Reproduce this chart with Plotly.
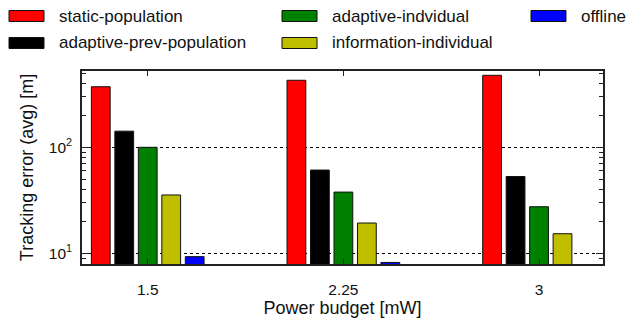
import plotly.graph_objects as go

# Power budgets (mW) and mean tracking error (m) per strategy
budgets = ["1.5", "2.25", "3"]
static_population = [373, 429, 478]
adaptive_prev_population = [142, 61, 53]
adaptive_individual = [100, 37.8, 27.5]
information_individual = [35.5, 19.3, 15.3]
offline = [9.3, 8.2, 7.7]

series_names = ["static-population", "adaptive-prev-population", "adaptive-indvidual",
                "information-individual", "offline"]
series_values = [static_population, adaptive_prev_population, adaptive_individual,
                 information_individual, offline]
series_colors = ["#ff0000", "#000000", "#008000", "#bfbf00", "#0000ff"]

W, H = 626, 322
L, R, T, B = 82, 603, 71, 264  # plot area in pixels
FONT = "Liberation Sans, Arial, sans-serif"

fig = go.Figure()
for name, vals, col in zip(series_names, series_values, series_colors):
    fig.add_trace(go.Bar(
        x=budgets, y=vals, name=name, showlegend=False,
        marker=dict(color=col, line=dict(color="#111111", width=1)),
    ))

# Legend drawn as swatches + labels, laid out column-major (2 rows x 3 columns)
def px_to_paper(xp, yp):
    return (xp - L) / (R - L), (B - yp) / (B - T)

legend_cols = [9, 282, 531]
legend_rows = [16, 43]
for i, (name, col) in enumerate(zip(series_names, series_colors)):
    cx = legend_cols[i // 2]
    cy = legend_rows[i % 2]
    x0, y0 = px_to_paper(cx, cy + 5.5)
    x1, y1 = px_to_paper(cx + 35, cy - 5.5)
    fig.add_shape(type="rect", xref="paper", yref="paper", x0=x0, x1=x1, y0=y0, y1=y1,
                  fillcolor=col, line=dict(color="#111111", width=1))
    tx, ty = px_to_paper(cx + 48, cy)
    fig.add_annotation(xref="paper", yref="paper", x=tx, y=ty, text=name, showarrow=False,
                       xanchor="left", yanchor="middle",
                       font=dict(family=FONT, size=17, color="#111111"))

fig.update_layout(
    width=W, height=H,
    margin=dict(l=L, r=W - R, t=T, b=H - B, pad=0),
    paper_bgcolor="white", plot_bgcolor="white",
    barmode="group", bargap=0.4, bargroupgap=0.2,
    font=dict(family=FONT, size=15.5, color="#111111"),
)

fig.update_xaxes(
    type="category", range=[-0.336, 2.327], automargin=False,
    showline=True, linecolor="#222222", linewidth=1.5, mirror="ticks",
    ticks="inside", ticklen=5, tickcolor="#222222",
    ticklabelstandoff=11, showgrid=False,
    title=dict(text="Power budget [mW]", font=dict(size=18), standoff=4),
)

fig.update_yaxes(
    type="log", range=[0.899, 2.72], automargin=False,
    showline=True, linecolor="#222222", linewidth=1.5, mirror="ticks",
    ticks="inside", ticklen=7, tickcolor="#222222",
    tickvals=[10, 100], ticktext=["10<sup>1</sup>", "10<sup>2</sup>"],
    ticklabelstandoff=5,
    showgrid=True, gridcolor="#000000", griddash="dot", gridwidth=1,
    minor=dict(ticks="inside", ticklen=4, tickcolor="#222222", showgrid=False,
               tickvals=[8, 9, 20, 30, 40, 50, 60, 70, 80, 90, 200, 300, 400, 500]),
    title=dict(text="Tracking error (avg) [m]", font=dict(size=18), standoff=11),
    zeroline=False,
)

fig.write_html("out.html")
